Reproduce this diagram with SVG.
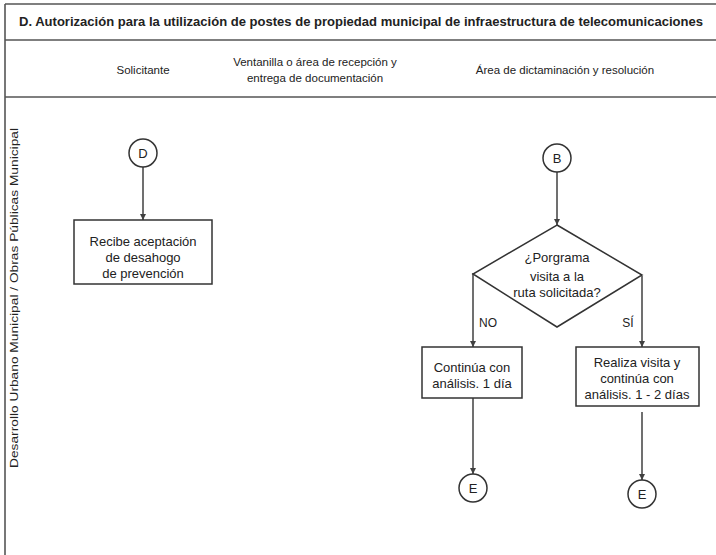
<svg xmlns="http://www.w3.org/2000/svg" width="716" height="555" viewBox="0 0 716 555">
<style>
.frame{stroke:#555;stroke-width:1.6;fill:none}
.shape{fill:#fff;stroke:#333;stroke-width:1.5}
.conn{stroke:#404040;stroke-width:1.5;fill:none}
text{font-family:"Liberation Sans",Arial,sans-serif;fill:#222;font-size:13px;text-anchor:middle}
.hdr{font-size:11.5px}
.lbl{font-size:12px}
.title{font-size:12.5px;font-weight:bold}
</style>
<defs>
<marker id="arr" viewBox="0 0 10 10" refX="10" refY="5" markerWidth="6" markerHeight="6" orient="auto" markerUnits="userSpaceOnUse">
<path d="M0,0 L10,5 L0,10 z" fill="#404040"/>
</marker>
</defs>
<rect width="716" height="555" fill="#fff"/>
<g id="frame">
<line class="frame" x1="5" y1="4" x2="716" y2="4"/>
<line class="frame" x1="5" y1="40" x2="716" y2="40"/>
<line class="frame" x1="5" y1="97" x2="716" y2="97"/>
<line class="frame" x1="5" y1="4" x2="5" y2="555"/>
<text class="title" x="361" y="26" textLength="684" lengthAdjust="spacingAndGlyphs">D. Autorización para la utilización de postes de propiedad municipal de infraestructura de telecomunicaciones</text>
<text class="hdr" x="143" y="74">Solicitante</text>
<text class="hdr" x="315" y="66">Ventanilla o área de recepción y</text>
<text class="hdr" x="315" y="82">entrega de documentación</text>
<text class="hdr" x="565" y="74">Área de dictaminación y resolución</text>
<text class="hdr" transform="translate(18,298) rotate(-90)" textLength="340" lengthAdjust="spacingAndGlyphs">Desarrollo Urbano Municipal / Obras Públicas Municipal</text>
</g>
<g id="connectors">
<line class="conn" x1="143" y1="167" x2="143" y2="220" marker-end="url(#arr)"/>
<line class="conn" x1="557" y1="172" x2="557" y2="225" marker-end="url(#arr)"/>
<polyline class="conn" points="473,273 473,347" marker-end="url(#arr)"/>
<polyline class="conn" points="642,276 642,347" marker-end="url(#arr)"/>
<line class="conn" x1="473" y1="398" x2="473" y2="474" marker-end="url(#arr)"/>
<line class="conn" x1="642" y1="412" x2="642" y2="480" marker-end="url(#arr)"/>
<text x="488" y="327" class="lbl">NO</text>
<text x="628" y="327" class="lbl">SÍ</text>
</g>
<g id="nodeD">
<circle class="shape" cx="143" cy="153" r="14"/>
<text x="143" y="158">D</text>
</g>
<g id="nodeRecibe">
<rect class="shape" x="74" y="220" width="138" height="64"/>
<text x="143" y="246">Recibe aceptación</text>
<text x="143" y="262">de desahogo</text>
<text x="143" y="278">de prevención</text>
</g>
<g id="nodeB">
<circle class="shape" cx="557" cy="158" r="14"/>
<text x="557" y="163">B</text>
</g>
<g id="nodeDecision">
<polygon class="shape" points="557,225 642,275 557,327 473,274"/>
<text x="557" y="262">¿Porgrama</text>
<text x="557" y="281">visita a la</text>
<text x="557" y="297">ruta solicitada?</text>
</g>
<g id="nodeNo">
<rect class="shape" x="422" y="347" width="100" height="51"/>
<text x="472" y="372">Continúa con</text>
<text x="472" y="388">análisis. 1 día</text>
</g>
<g id="nodeSi">
<rect class="shape" x="576" y="347" width="123" height="59"/>
<text x="637" y="367">Realiza visita y</text>
<text x="637" y="383">continúa con</text>
<text x="637" y="399">análisis. 1 - 2 días</text>
</g>
<g id="nodeE1">
<circle class="shape" cx="473" cy="488" r="14"/>
<text x="473" y="493">E</text>
</g>
<g id="nodeE2">
<circle class="shape" cx="642" cy="494" r="14"/>
<text x="642" y="499">E</text>
</g>
</svg>
